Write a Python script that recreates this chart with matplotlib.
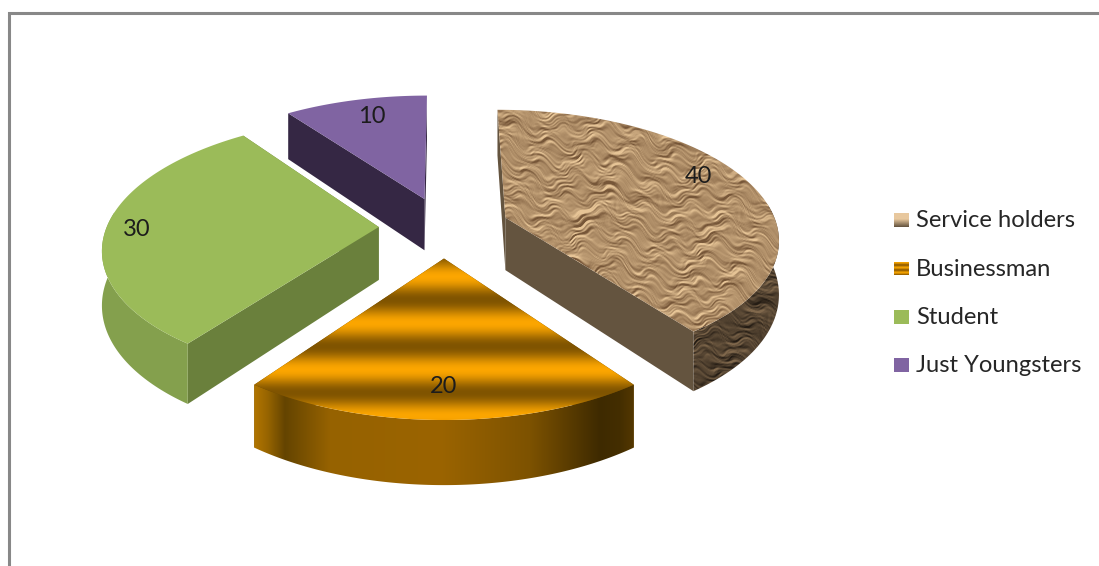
import numpy as np
import matplotlib
matplotlib.use("Agg")
import matplotlib.pyplot as plt
from matplotlib.patches import Polygon, Rectangle

categorias = ["Service holders", "Businessman", "Student", "Just Youngsters"]
valores = [40, 20, 30, 10]

W, H = 1099, 566
CX, CY = 444, 227      # centro del pastel en pixeles
EXPLODE = 0.24
AX, AY, PERSP = 272, 126.7, 0.15
DEPTH = 53

# ajuste de etiquetas respecto a su sitio calculado (px)
etiqueta_dx = [-7, 0, -19, 5]
etiqueta_dy = [-11, 0, 2, 0]

plt.rcParams["font.family"] = ["Lato", "DejaVu Sans"]

fig = plt.figure(figsize=(W / 100, H / 100), dpi=100)
ax = fig.add_axes([0, 0, 1, 1])
xx, yy = np.meshgrid(np.arange(W) + 0.5, np.arange(H) + 0.5)


def proyectar(x, y, z=0.0):
    d = 1 - PERSP * y
    return CX + AX * x / d, CY + AY * y / d + DEPTH * z / d


def punto(t, r, mid, z=0.0):
    x = EXPLODE * np.sin(mid) + r * np.sin(t)
    y = -EXPLODE * np.cos(mid) - r * np.cos(t)
    return proyectar(x, y, z)


def mezcla(c1, c2, f):
    c1, c2 = np.array(c1) / 255, np.array(c2) / 255
    return c1 + (c2 - c1) * f[..., None]


def textura():
    # papel arrugado: relieve de pliegues y luz rasante
    u = xx + 11 * np.sin(yy / 17) + 6 * np.sin(xx / 23 + yy / 9)
    v = yy - 0.25 * xx + 6 * np.sin(xx / 19 + 1) + 4 * np.sin(xx / 7 + yy / 13) + 2 * np.sin(xx / 3.7 - yy / 5)
    h = np.zeros_like(xx)
    for k in range(1, 81):
        fb = (k * 0.6180339) % 1
        fa = (k * 0.7548776) % 1
        b = 0.06 + 0.75 * fb
        a = b * (0.9 * fa - 0.45)
        h += np.abs(np.sin(a * u + b * v + k * 2.399)) / (b ** 0.9)
    gy, gx = np.gradient(h)
    luz = gy * 0.9 + gx * 0.45
    luz = luz / np.std(luz)
    return np.clip(0.52 + 0.2 * luz, 0, 1)


def pintar(img, patch):
    ax.add_patch(patch)
    im = ax.imshow(img, extent=(0, W, H, 0), interpolation="bilinear", aspect="auto",
                   zorder=patch.get_zorder())
    im.set_clip_path(patch)


relieve = textura()
tex = mezcla((118, 86, 56), (230, 196, 150), relieve)
rayas = mezcla((128, 84, 0), (252, 166, 0), 0.5 + 0.5 * np.cos(2 * np.pi * (yy - 323) / 46.5))

# pared curva del negocio: degradado horizontal
xs_b = [254, 268, 285, 330, 440, 530, 600, 620, 635]
r_b = [178, 150, 100, 150, 155, 125, 62, 68, 85]
g_b = [118, 100, 68, 98, 100, 82, 42, 46, 56]
pared_b = np.dstack([np.interp(xx, xs_b, r_b), np.interp(xx, xs_b, g_b), np.zeros_like(xx)]) / 255

superficies = [tex, rayas, "#9BBB59", "#8064A2"]
paredes_planas = ["#64543F", "#6E4A00", "#6A803C", "#352744"]
paredes_curvas = [mezcla((36, 28, 20), (128, 104, 76), relieve), pared_b, "#84A04D", "#5D4A78"]

ang = np.cumsum([0] + valores) / np.sum(valores) * 2 * np.pi
for i in range(len(valores)):
    t0, t1 = ang[i], ang[i + 1]
    mid = (t0 + t1) / 2
    ts = np.linspace(t0, t1, 120)
    ap_top = punto(t0, 0, mid)
    ap_bot = punto(t0, 0, mid, 1)
    arco_top = np.array([punto(t, 1, mid) for t in ts])

    # caras del corte
    for t in (t0, t1):
        a, b = punto(t, 1, mid), punto(t, 1, mid, 1)
        ax.add_patch(Polygon([ap_top, a, b, ap_bot], fc=paredes_planas[i], ec="none", zorder=2))

    # pared exterior, solo la parte que mira al frente
    ts_v = ts[np.cos(ts) < 0.12]
    if len(ts_v) > 1:
        pared = np.array([punto(t, 1, mid) for t in ts_v] + [punto(t, 1, mid, 1) for t in ts_v[::-1]])
        if isinstance(paredes_curvas[i], str):
            ax.add_patch(Polygon(pared, fc=paredes_curvas[i], ec="none", zorder=3))
        else:
            pintar(paredes_curvas[i], Polygon(pared, fc="none", ec="none", zorder=3))

    # cara superior
    cara = np.vstack([[ap_top], arco_top])
    if isinstance(superficies[i], str):
        ax.add_patch(Polygon(cara, fc=superficies[i], ec="none", zorder=4))
    else:
        pintar(superficies[i], Polygon(cara, fc="none", ec="none", zorder=4))

    # etiqueta
    lx, ly = punto(mid, 0.82, mid)
    ax.text(lx + etiqueta_dx[i], ly + etiqueta_dy[i], str(valores[i]), ha="center", va="center",
            fontsize=17, color="#1c1c1c", zorder=6)

# leyenda
ley_y = [220, 268.5, 316.5, 364.5]
for i, nombre in enumerate(categorias):
    y = ley_y[i]
    caja = Rectangle((894, y - 7), 15, 14, fc="none", ec="none", zorder=5)
    if i == 0:
        img = mezcla((96, 80, 60), (232, 200, 158), np.clip((y + 7 - yy) / 8, 0, 1))
        pintar(img, caja)
    elif i == 1:
        img = mezcla((150, 95, 0), (240, 160, 0), 0.5 + 0.5 * np.cos(2 * np.pi * (yy - y) / 5))
        pintar(img, caja)
    else:
        caja.set_facecolor(superficies[i])
        ax.add_patch(caja)
    ax.text(916, y + 0.5, nombre, ha="left", va="center", fontsize=17.1, color="#262626", zorder=6)

# marco del grafico
ax.plot([8.5, 8.5, W], [H, 12.5, 12.5], color="#888888", lw=2.2, solid_joinstyle="miter", zorder=7)

ax.set_xlim(0, W)
ax.set_ylim(H, 0)
ax.axis("off")
fig.savefig("out.png", dpi=100, facecolor="white")
